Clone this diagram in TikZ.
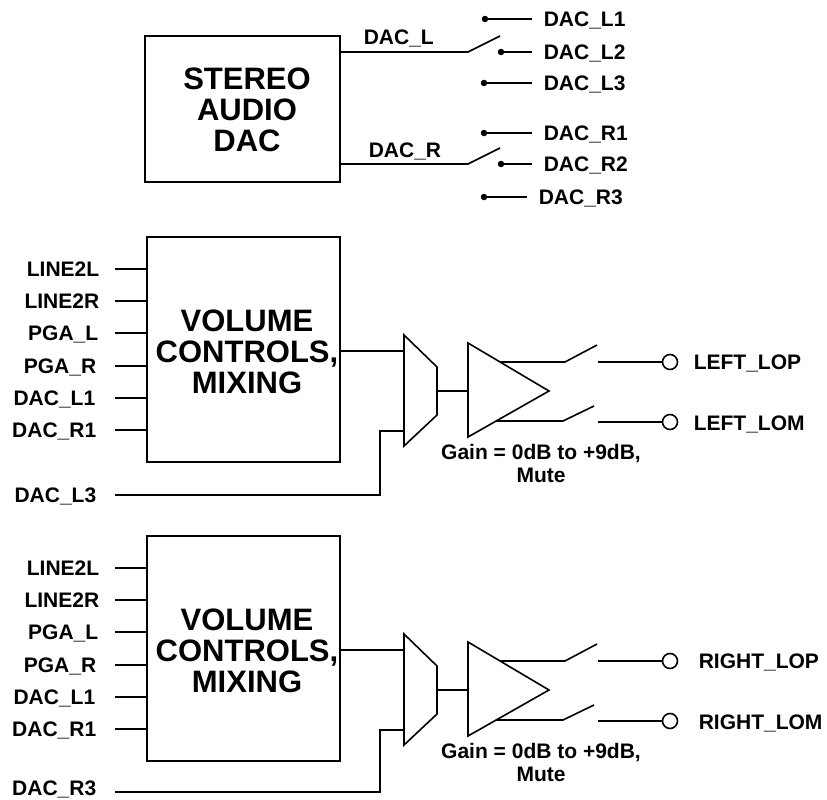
\documentclass[tikz,border=0pt]{standalone}
\usepackage{fontspec}
\setmainfont{Liberation Sans}
\begin{document}
\begin{tikzpicture}[x=1pt,y=-1pt, line width=1.6pt,
  lbl/.style={font=\fontsize{21}{24}\selectfont\bfseries, inner sep=0pt, text height=15pt, text depth=0pt},
  big/.style={font=\fontsize{31}{31}\selectfont\bfseries, align=center, inner sep=0pt},
  gain/.style={font=\fontsize{21}{23}\selectfont\bfseries, align=center, inner sep=0pt},
  blk/.style={draw, inner sep=0pt},
  dot/.style={circle, fill, inner sep=0pt, minimum size=6.5pt},
  term/.style={circle, draw, fill=white, inner sep=0pt, minimum size=15pt}]
\useasboundingbox (0,0) rectangle (827,800);

% ---- top: stereo audio DAC ----
\node[blk, minimum width=195pt, minimum height=146pt] (dac) at (242.5,109) {};
\node[big] (dactxt) at (247,110) {STEREO\\AUDIO\\DAC};

\coordinate (pl) at (468,52);  \coordinate (pl2) at (500,36);
\coordinate (pr) at (468,164); \coordinate (pr2) at (500,148);
\draw (dac.east |- pl) -- (pl) -- (pl2);
\draw (dac.east |- pr) -- (pr) -- (pr2);
\node[lbl, anchor=west] (ldacl) at (363,37) {DAC\_L};
\node[lbl, anchor=west] (ldacr) at (368,150) {DAC\_R};

\foreach \nm/\dx/\dy/\tx [count=\i] in {DAC\_L1/485/19/543, DAC\_L2/501/52/543, DAC\_L3/484/83/543,
    DAC\_R1/484/133/543, DAC\_R2/501/164/543, DAC\_R3/484/197/538}{
  \node[dot] (d\i) at (\dx,\dy) {};
  \node[lbl, anchor=west] (t\i) at (\tx,\dy) {\nm};
  \draw (d\i.center) -- ([xshift=-11pt]t\i.west);
}

% ---- two mixing sections ----
\foreach \q/\off/\side/\ext/\lx/\ly/\lyl in {a/0/LEFT/L3/693/495/495, b/299/RIGHT/R3/698/489/493}{
  \node[blk, minimum width=193pt, minimum height=225pt] (vc\q) at (243.5,\off+349.5) {};
  \node[big] (vct\q) at (247,\off+352) {VOLUME\\CONTROLS,\\MIXING};
  \foreach \n/\y/\xe [count=\i] in {LINE2L/269/100, LINE2R/301/100, PGA\_L/333/99,
      PGA\_R/366/97, DAC\_L1/398/96, DAC\_R1/430/97}{
    \node[lbl, anchor=east] (in\q\i) at (\xe,\off+\y) {\n};
    \coordinate (ie\q\i) at (115,\off+\y);
    \draw (ie\q\i) -- (vc\q.west |- ie\q\i);
  }
  % mux
  \coordinate (mi1\q) at (404,\off+351);
  \coordinate (mi2\q) at (404,\off+431);
  \coordinate (mo\q) at (437,\off+391);
  \draw (404,\off+335) -- (437,\off+367) -- (437,\off+415) -- (404,\off+446) -- cycle;
  % amp
  \coordinate (ai\q) at (468,\off+391);
  \draw (468,\off+343) -- (549,\off+391) -- (468,\off+437) -- cycle;
  % connections
  \draw (vc\q.east |- mi1\q) -- (mi1\q);
  \node[lbl, anchor=east] (dx\q) at (97,\off+\ly) {DAC\_\ext};
  \coordinate (de\q) at (115,\off+\lyl);
  \draw (de\q) -- (380,\off+\lyl) |- (mi2\q);
  \draw (mo\q) -- (ai\q);
  % outputs
  \node[term] (t1\q) at (670,\off+362) {};
  \node[term] (t2\q) at (670,\off+422) {};
  \draw (500,\off+362) -- (565,\off+362) -- (597,\off+345);
  \draw (496,\off+421) -- (563,\off+421) -- (594,\off+406);
  \draw (598,\off+362) -- (t1\q);
  \draw (598,\off+422) -- (t2\q);
  \node[lbl, anchor=west] (o1\q) at (\lx,\off+362) {\side\_LOP};
  \node[lbl, anchor=west] (o2\q) at (\lx,\off+423) {\side\_LOM};
  \node[gain] (g\q) at (541,\off+463) {Gain = 0dB to +9dB,\\Mute};
}
\end{tikzpicture}
\end{document}
